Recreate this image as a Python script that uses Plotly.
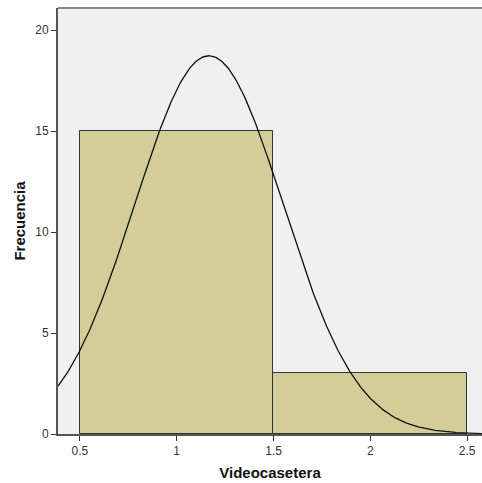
import numpy as np
import plotly.graph_objects as go

# Data
categories = [1, 2]
counts = [15, 3]
x_ticks = [0.5, 1, 1.5, 2, 2.5]
x_tick_labels = ["0.5", "1", "1.5", "2", "2.5"]
y_ticks = [0, 5, 10, 15, 20]
y_tick_labels = ["0", "5", "10", "15", "20"]

# normal curve from data statistics
vals = np.repeat(categories, counts).astype(float)
n = len(vals)
mu = vals.mean()
sd = vals.std(ddof=1)
bin_w = 1.0
xs = np.linspace(0.387, 2.577, 400)
ys = n * bin_w / (sd * np.sqrt(2 * np.pi)) * np.exp(-0.5 * ((xs - mu) / sd) ** 2)

fig = go.Figure()
fig.add_trace(go.Bar(x=categories, y=counts, width=1,
                     marker=dict(color="#d3ce97", line=dict(color="#333333", width=1)),
                     showlegend=False, hoverinfo="skip"))
fig.add_trace(go.Scatter(x=xs, y=ys, mode="lines", line=dict(color="#111111", width=1.3),
                         showlegend=False, hoverinfo="skip"))

fig.update_layout(
    width=482, height=483,
    margin=dict(l=58, r=0, t=8, b=49),
    paper_bgcolor="white", plot_bgcolor="#f0f0f0",
    font=dict(family="Liberation Sans, Arial, sans-serif", size=12, color="#333333"),
    bargap=0,
    xaxis=dict(range=[0.387, 2.577], tickvals=x_ticks, ticktext=x_tick_labels,
               showgrid=False, zeroline=False, showline=True, linecolor="#555555", linewidth=2,
               ticks="outside", ticklen=5, tickcolor="#333333",
               title=dict(text="<b>Videocasetera</b>", font=dict(size=15, color="#111111"), standoff=10)),
    yaxis=dict(range=[0, 21.09], tickvals=y_ticks, ticktext=y_tick_labels,
               showgrid=False, zeroline=False, showline=True, linecolor="#555555", linewidth=2,
               ticks="outside", ticklen=5, tickcolor="#333333",
               title=dict(text="<b>Frecuencia</b>", font=dict(size=15, color="#111111"), standoff=6)),
    shapes=[dict(type="line", xref="paper", yref="paper", x0=0, x1=1, y0=1, y1=1,
                 line=dict(color="#888888", width=2))],
)

fig.write_html("out.html")
